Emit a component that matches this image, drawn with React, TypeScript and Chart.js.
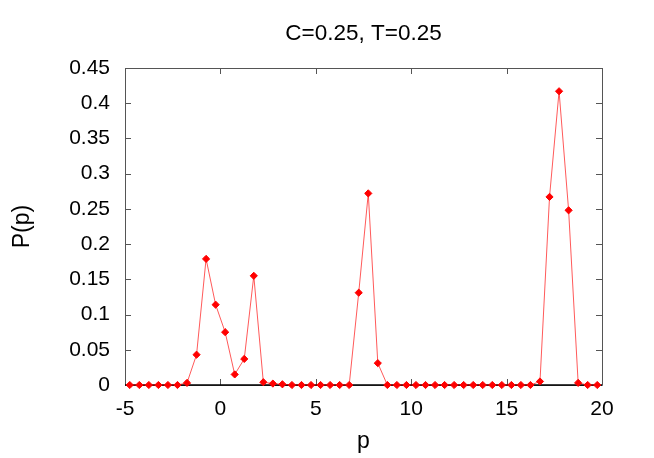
import React, { useEffect, useRef } from "react";
import { Chart, registerables } from "chart.js";

Chart.register(...registerables);

const TITLE = "C=0.25, T=0.25";
const X_LABEL = "p";
const Y_LABEL = "P(p)";

const pValues = [
  -4.75, -4.25, -3.75, -3.25, -2.75, -2.25, -1.75, -1.25, -0.75, -0.25,
  0.25, 0.75, 1.25, 1.75, 2.25, 2.75, 3.25, 3.75, 4.25, 4.75,
  5.25, 5.75, 6.25, 6.75, 7.25, 7.75, 8.25, 8.75, 9.25, 9.75,
  10.25, 10.75, 11.25, 11.75, 12.25, 12.75, 13.25, 13.75, 14.25, 14.75,
  15.25, 15.75, 16.25, 16.75, 17.25, 17.75, 18.25, 18.75, 19.25, 19.75,
];

const probValues = [
  0, 0, 0, 0, 0, 0, 0.003, 0.043, 0.179, 0.114,
  0.075, 0.015, 0.037, 0.155, 0.004, 0.002, 0.001, 0, 0, 0,
  0, 0, 0, 0, 0.131, 0.272, 0.031, 0, 0, 0,
  0, 0, 0, 0, 0, 0, 0, 0, 0, 0,
  0, 0, 0, 0.005, 0.267, 0.417, 0.248, 0.003, 0, 0,
];

const xTicks = [-5, 0, 5, 10, 15, 20];
const yTicks = [0, 0.05, 0.1, 0.15, 0.2, 0.25, 0.3, 0.35, 0.4, 0.45];

const FONT = "'Liberation Sans', Arial, Helvetica, sans-serif";

const framePlugin = {
  id: "gnuplotFrame",
  beforeDatasetsDraw(chart: any) {
    const { ctx, chartArea, scales } = chart;
    const { left, right, top, bottom } = chartArea;
    const xs = scales.x;
    const ys = scales.y;
    const tick = 6;
    ctx.save();
    ctx.strokeStyle = "#555";
    ctx.lineWidth = 1;
    ctx.beginPath();
    ctx.rect(Math.round(left) + 0.5, Math.round(top) + 0.5, Math.round(right - left), Math.round(bottom - top));
    ctx.stroke();
    ctx.beginPath();
    for (const v of xTicks) {
      const x = Math.round(xs.getPixelForValue(v)) + 0.5;
      ctx.moveTo(x, bottom);
      ctx.lineTo(x, bottom - tick);
      ctx.moveTo(x, top);
      ctx.lineTo(x, top + tick);
    }
    for (const v of yTicks) {
      const y = Math.round(ys.getPixelForValue(v)) + 0.5;
      ctx.moveTo(left, y);
      ctx.lineTo(left + tick, y);
      ctx.moveTo(right, y);
      ctx.lineTo(right - tick, y);
    }
    ctx.stroke();
    // zero axis
    const y0 = ys.getPixelForValue(0);
    ctx.strokeStyle = "#000";
    ctx.lineWidth = 1.5;
    ctx.beginPath();
    ctx.moveTo(left, y0);
    ctx.lineTo(right, y0);
    ctx.stroke();
    ctx.restore();
  },
};

export default function App() {
  const canvasRef = useRef<HTMLCanvasElement | null>(null);

  useEffect(() => {
    document.body.style.margin = "0";
    const canvas = canvasRef.current;
    if (!canvas) return;
    const data = pValues.map((p, i) => ({ x: p, y: probValues[i] }));
    const chart = new Chart(canvas, {
      type: "scatter",
      data: {
        datasets: [
          {
            data,
            showLine: true,
            borderColor: "rgba(255,0,0,0.65)",
            borderWidth: 1,
            backgroundColor: "#ff0000",
            pointStyle: "rectRot",
            pointRadius: 3.6,
            pointBorderWidth: 1,
            pointBorderColor: "#ff0000",
            pointBackgroundColor: "#ff0000",
            clip: false,
          } as any,
        ],
      },
      options: {
        responsive: false,
        animation: false,
        devicePixelRatio: 1,
        layout: { padding: { left: 0, right: 52, top: 0, bottom: 0 } },
        plugins: {
          legend: { display: false },
          tooltip: { enabled: false },
          title: {
            display: true,
            fullSize: false,
            text: TITLE,
            color: "#000",
            font: { family: FONT, size: 22.5, weight: "normal", lineHeight: 1.2 },
            padding: { top: 20, bottom: 21 },
          },
        },
        scales: {
          x: {
            type: "linear",
            min: -5,
            max: 20,
            grid: { display: false, drawTicks: false },
            border: { display: false },
            ticks: {
              stepSize: 5,
              color: "#000",
              font: { family: FONT, size: 21 },
              padding: 12,
              maxRotation: 0,
            },
            title: {
              display: true,
              text: X_LABEL,
              color: "#000",
              font: { family: FONT, size: 23 },
              padding: { top: 0, bottom: 3 },
            },
            afterFit(scale: any) {
              scale.height = 73;
            },
          },
          y: {
            type: "linear",
            min: 0,
            max: 0.45,
            grid: { display: false, drawTicks: false },
            border: { display: false },
            ticks: {
              stepSize: 0.05,
              color: "#000",
              font: { family: FONT, size: 21 },
              padding: 15,
              callback: (v: any) => String(+Number(v).toFixed(2)),
            },
            title: {
              display: true,
              text: Y_LABEL,
              color: "#000",
              font: { family: FONT, size: 23 },
              padding: { top: 9, bottom: 0 },
            },
            afterFit(scale: any) {
              scale.width = 125;
            },
          },
        },
      },
      plugins: [framePlugin],
    });
    return () => chart.destroy();
  }, []);

  return (
    <div style={{ width: 654, height: 458, position: "relative" }}>
      <canvas ref={canvasRef} width={654} height={458} />
    </div>
  );
}
